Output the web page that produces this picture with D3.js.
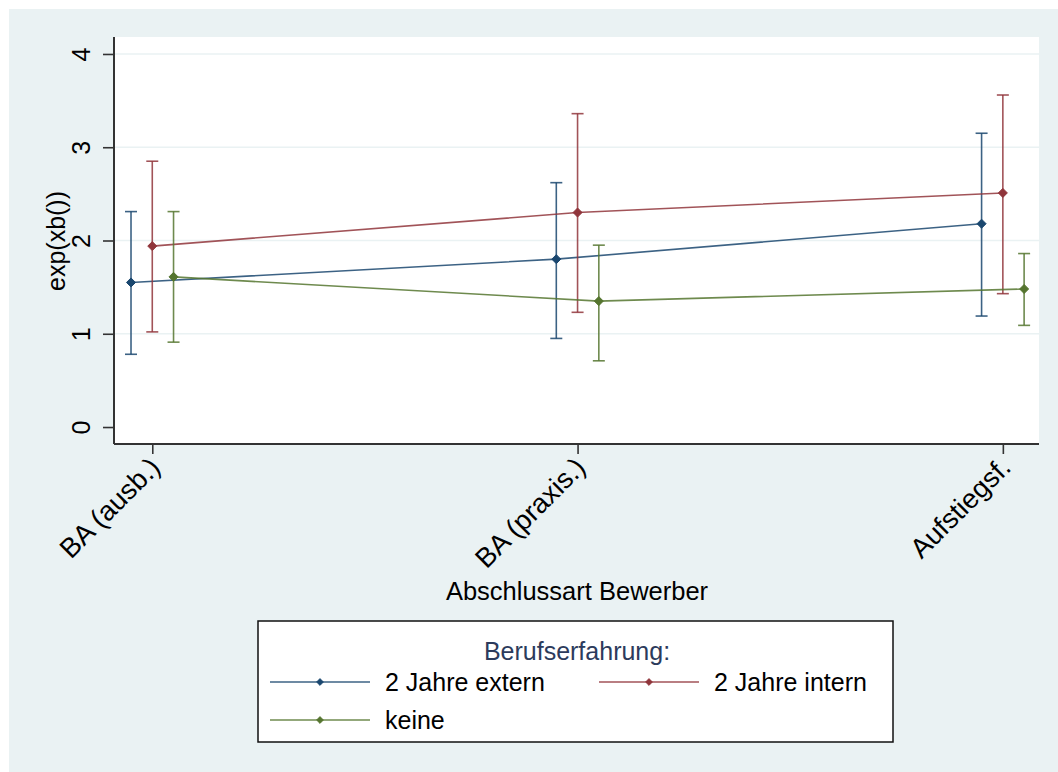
<!DOCTYPE html>
<html>
<head>
<meta charset="utf-8">
<script src="https://cdn.jsdelivr.net/npm/d3@7"></script>
<style>
  html, body { margin: 0; padding: 0; background: #ffffff; }
  svg { display: block; font-family: "Liberation Sans", Arial, sans-serif; }
</style>
</head>
<body>
<svg id="chart" width="1058" height="772"></svg>
<script>
// ---- data ----
const categories = ["BA (ausb.)", "BA (praxis.)", "Aufstiegsf."];
const seriesNames = ["2 Jahre extern", "2 Jahre intern", "keine"];
const estExtern = [1.55, 1.80, 2.18];
const estIntern = [1.94, 2.30, 2.51];
const estKeine  = [1.61, 1.35, 1.48];
const loExtern = [0.78, 0.95, 1.19];
const loIntern = [1.02, 1.23, 1.43];
const loKeine  = [0.91, 0.71, 1.09];
const hiExtern = [2.31, 2.62, 3.15];
const hiIntern = [2.85, 3.36, 3.56];
const hiKeine  = [2.31, 1.95, 1.86];
const yTicks = [0, 1, 2, 3, 4];
const xTitle = "Abschlussart Bewerber";
const yTitle = "exp(xb())";
const legendTitle = "Berufserfahrung:";

const colors = ["#1a476f", "#90353b", "#55752f"];
const offsets = [-0.05, 0, 0.05];

const series = [
  { name: seriesNames[0], est: estExtern, lo: loExtern, hi: hiExtern },
  { name: seriesNames[1], est: estIntern, lo: loIntern, hi: hiIntern },
  { name: seriesNames[2], est: estKeine,  lo: loKeine,  hi: hiKeine }
];

const svg = d3.select("#chart");

// background
svg.append("rect").attr("x", 9).attr("y", 9).attr("width", 1049).attr("height", 763).attr("fill", "#eaf2f3");

const plot = { left: 114, right: 1039, top: 37, bottom: 444 };
svg.append("rect").attr("x", plot.left).attr("y", plot.top)
  .attr("width", plot.right - plot.left).attr("height", plot.bottom - plot.top).attr("fill", "#ffffff");

const x = d3.scaleLinear().domain([0.91, 3.085]).range([plot.left, plot.right]);
const y = d3.scaleLinear().domain([-0.182, 4.182]).range([plot.bottom, plot.top]);

// gridlines
svg.append("g").selectAll("line").data(yTicks.filter(d => d > 0)).join("line")
  .attr("x1", plot.left).attr("x2", plot.right)
  .attr("y1", d => y(d)).attr("y2", d => y(d))
  .attr("stroke", "#eaf2f3").attr("stroke-width", 1.5);

// y axis
const yAxis = svg.append("g").attr("transform", `translate(${plot.left},0)`)
  .call(d3.axisLeft(y).tickValues(yTicks).tickSize(11).tickPadding(0).tickFormat(d3.format("d")));
yAxis.select(".domain").attr("stroke", "#333").attr("stroke-width", 2)
  .attr("d", `M0,${plot.top}V${plot.bottom}`);
yAxis.selectAll(".tick line").attr("stroke", "#333").attr("stroke-width", 1.6);
yAxis.selectAll(".tick text")
  .attr("x", null).attr("dy", null)
  .attr("transform", "translate(-24,0) rotate(-90)")
  .attr("text-anchor", "middle")
  .attr("font-size", 25).attr("fill", "#000");

// x axis
const xAxis = svg.append("g").attr("transform", `translate(0,${plot.bottom})`)
  .call(d3.axisBottom(x).tickValues([1, 2, 3]).tickSize(10).tickFormat(d => categories[d - 1]));
xAxis.select(".domain").attr("stroke", "#333").attr("stroke-width", 2)
  .attr("d", `M${plot.left},0H${plot.right}`);
xAxis.selectAll(".tick line").attr("stroke", "#333").attr("stroke-width", 1.6);
xAxis.selectAll(".tick text")
  .attr("y", null).attr("dy", null)
  .attr("transform", "translate(9,25) rotate(-45)")
  .attr("text-anchor", "end")
  .attr("font-size", 27.5).attr("fill", "#000");

// axis titles
svg.append("text").attr("x", 577).attr("y", 600).attr("text-anchor", "middle")
  .attr("font-size", 25.5).attr("fill", "#000").text(xTitle);
svg.append("text").attr("transform", "translate(65,241) rotate(-90)").attr("text-anchor", "middle")
  .attr("font-size", 25).attr("fill", "#000").text(yTitle);

const diamond = d3.symbol().type(d3.symbolDiamond2);

// series
series.forEach((s, i) => {
  const g = svg.append("g");
  const xs = categories.map((c, j) => x(j + 1 + offsets[i]));
  const line = d3.line().x((d, j) => xs[j]).y(d => y(d));
  g.append("path").attr("d", line(s.est)).attr("fill", "none")
    .attr("stroke", colors[i]).attr("stroke-width", 1.6).attr("stroke-opacity", 0.85);
  // CI
  s.est.forEach((v, j) => {
    const cx = xs[j];
    g.append("line").attr("x1", cx).attr("x2", cx).attr("y1", y(s.lo[j])).attr("y2", y(s.hi[j]))
      .attr("stroke", colors[i]).attr("stroke-width", 1.6).attr("stroke-opacity", 0.85);
    [s.lo[j], s.hi[j]].forEach(b => {
      g.append("line").attr("x1", cx - 6).attr("x2", cx + 6).attr("y1", y(b)).attr("y2", y(b))
        .attr("stroke", colors[i]).attr("stroke-width", 1.6).attr("stroke-opacity", 0.85);
    });
  });
  g.selectAll("path.m").data(s.est).join("path").attr("class", "m")
    .attr("d", diamond.size(52))
    .attr("transform", (d, j) => `translate(${xs[j]},${y(d)})`)
    .attr("fill", colors[i]).attr("stroke", colors[i]).attr("stroke-width", 1);
});

// legend
const lg = svg.append("g");
lg.append("rect").attr("x", 258).attr("y", 621).attr("width", 635).attr("height", 121)
  .attr("fill", "#fff").attr("stroke", "#111").attr("stroke-width", 1.5);
lg.append("text").attr("x", 577).attr("y", 660).attr("text-anchor", "middle")
  .attr("font-size", 25).attr("fill", "#2c3b5c").text(legendTitle);
const legPos = [
  { kx: 270, ky: 682 },
  { kx: 599, ky: 682 },
  { kx: 270, ky: 720 }
];
series.forEach((s, i) => {
  const p = legPos[i];
  lg.append("line").attr("x1", p.kx).attr("x2", p.kx + 100).attr("y1", p.ky).attr("y2", p.ky)
    .attr("stroke", colors[i]).attr("stroke-width", 1.6).attr("stroke-opacity", 0.85);
  lg.append("path").attr("d", diamond.size(30)).attr("transform", `translate(${p.kx + 50},${p.ky})`)
    .attr("fill", colors[i]).attr("stroke", colors[i]).attr("stroke-width", 0.8);
  lg.append("text").attr("x", p.kx + 115).attr("y", p.ky + 9).attr("font-size", 25).attr("fill", "#000")
    .text(s.name);
});
</script>
</body>
</html>
